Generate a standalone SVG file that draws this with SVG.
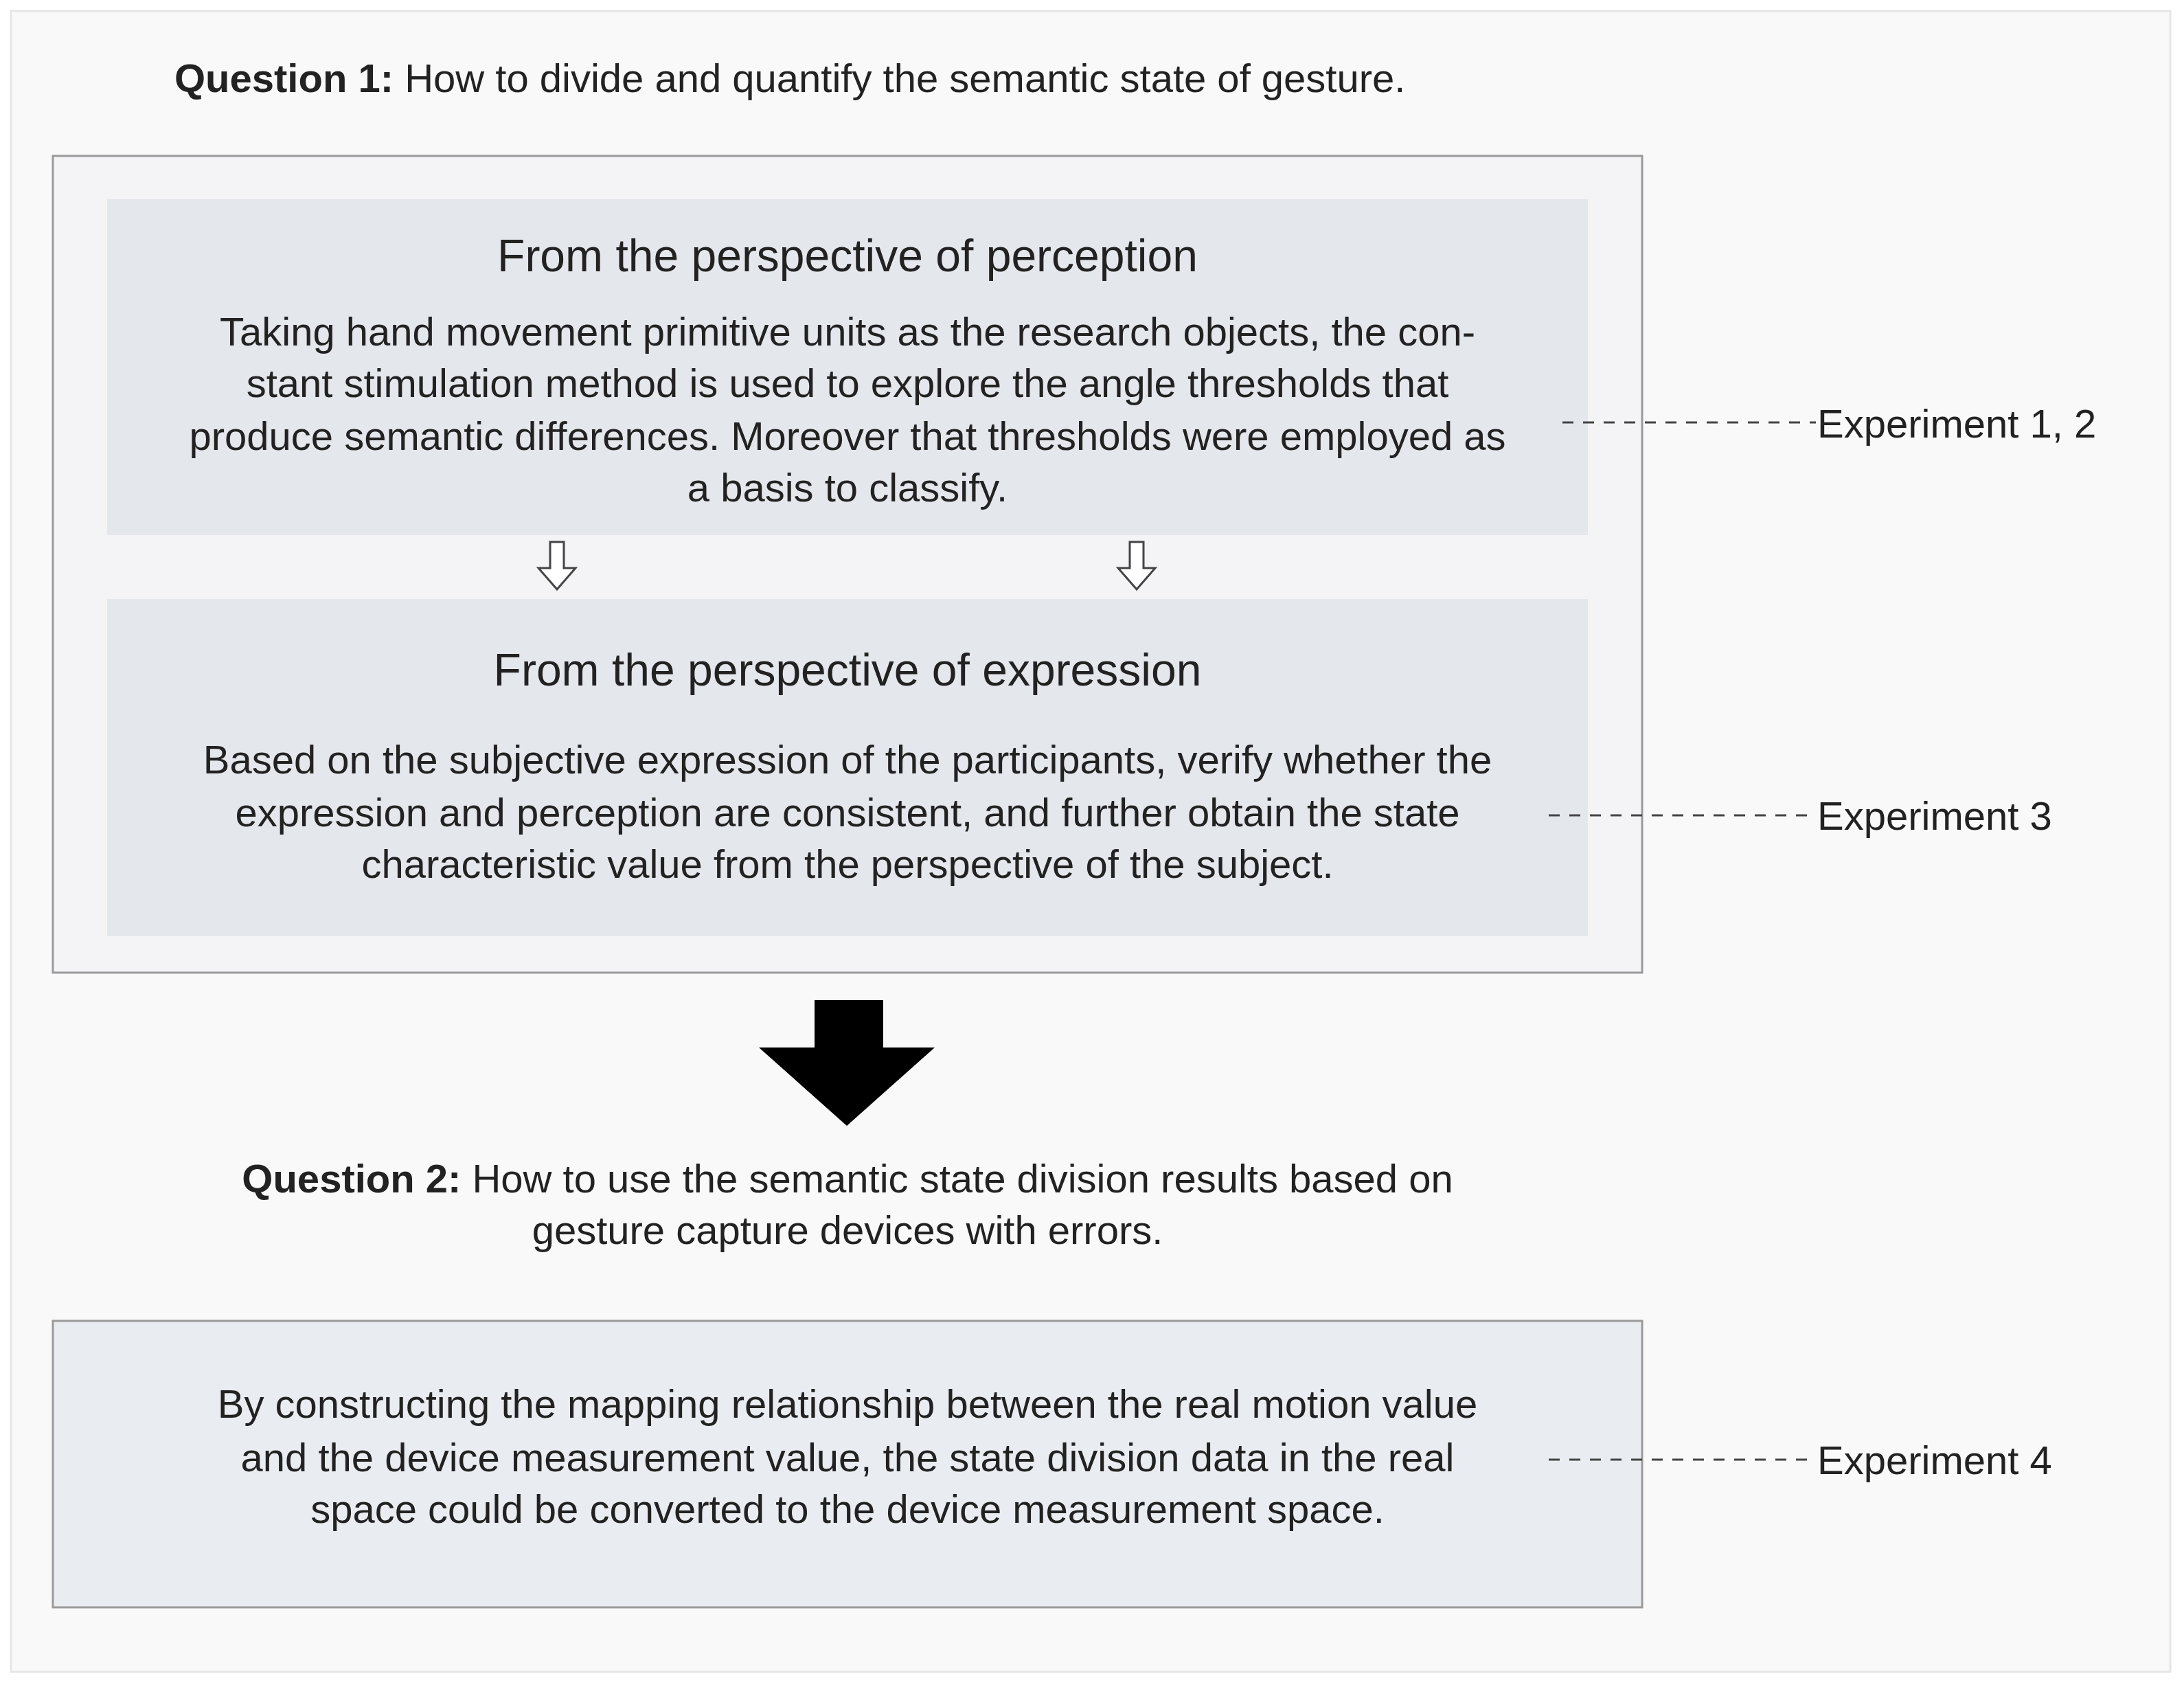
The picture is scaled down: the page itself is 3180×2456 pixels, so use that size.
<svg xmlns="http://www.w3.org/2000/svg" width="3180" height="2456" viewBox="0 0 3180 2456">
<style>
text{font-family:"Liberation Sans",Arial,sans-serif;fill:#222}
.q{font-size:58px}
.t{font-size:66px;text-anchor:middle}
.b{font-size:58px;text-anchor:middle}
.e{font-size:58px}
.d{stroke:#444;stroke-width:3;stroke-dasharray:16 14;fill:none}
.panel{fill:#e4e7ec}
</style>
<rect width="3180" height="2456" fill="#fff"/>
<rect x="16" y="16" width="3144" height="2418" fill="#f9f9f9" stroke="#e6e6e6" stroke-width="3"/>
<g id="q1"><text class="q" x="254" y="134"><tspan font-weight="bold">Question 1:</tspan> How to divide and quantify the semantic state of gesture.</text></g>
<g id="box1"><rect x="77" y="227" width="2314" height="1189" fill="#f4f4f7" stroke="#9a9a9a" stroke-width="3"/></g>
<g id="perception">
<rect class="panel" x="156" y="290" width="2156" height="489"/>
<text class="t" x="1234" y="395">From the perspective of perception</text>
<text class="b" x="1234" y="503">Taking hand movement primitive units as the research objects, the con-</text>
<text class="b" x="1234" y="578">stant stimulation method is used to explore the angle thresholds that</text>
<text class="b" x="1234" y="655">produce semantic differences. Moreover that thresholds were employed as</text>
<text class="b" x="1234" y="730">a basis to classify.</text>
</g>
<g id="expression">
<rect class="panel" x="156" y="872" width="2156" height="491"/>
<text class="t" x="1234" y="998">From the perspective of expression</text>
<text class="b" x="1234" y="1126">Based on the subjective expression of the participants, verify whether the</text>
<text class="b" x="1234" y="1203">expression and perception are consistent, and further obtain the state</text>
<text class="b" x="1234" y="1278">characteristic value from the perspective of the subject.</text>
</g>
<g id="q2">
<text class="b" x="1234" y="1736"><tspan font-weight="bold">Question 2:</tspan> How to use the semantic state division results based on</text>
<text class="b" x="1234" y="1811">gesture capture devices with errors.</text>
</g>
<g id="mapping">
<rect x="77" y="1923" width="2314" height="417" fill="#e9edf1" stroke="#9a9a9a" stroke-width="3"/>
<text class="b" x="1234" y="2064">By constructing the mapping relationship between the real motion value</text>
<text class="b" x="1234" y="2142">and the device measurement value, the state division data in the real</text>
<text class="b" x="1234" y="2217">space could be converted to the device measurement space.</text>
</g>
<g id="exp12"><text class="e" x="2646" y="637">Experiment 1, 2</text></g>
<g id="exp3"><text class="e" x="2646" y="1208">Experiment 3</text></g>
<g id="exp4"><text class="e" x="2646" y="2146">Experiment 4</text></g>
<g id="connectors">
<path class="d" d="M2275 615H2644"/>
<path class="d" d="M2255 1187H2644"/>
<path class="d" d="M2255 2125H2644"/>
<path d="M801 789h20v38h17l-27 31l-27-31h17z" fill="#fff" stroke="#444" stroke-width="3"/>
<path d="M1645 789h20v38h17l-27 31l-27-31h17z" fill="#fff" stroke="#444" stroke-width="3"/>
<path d="M1186 1456h100v69h75l-128 114l-128-114h81z" fill="#000"/>
</g>
</svg>
